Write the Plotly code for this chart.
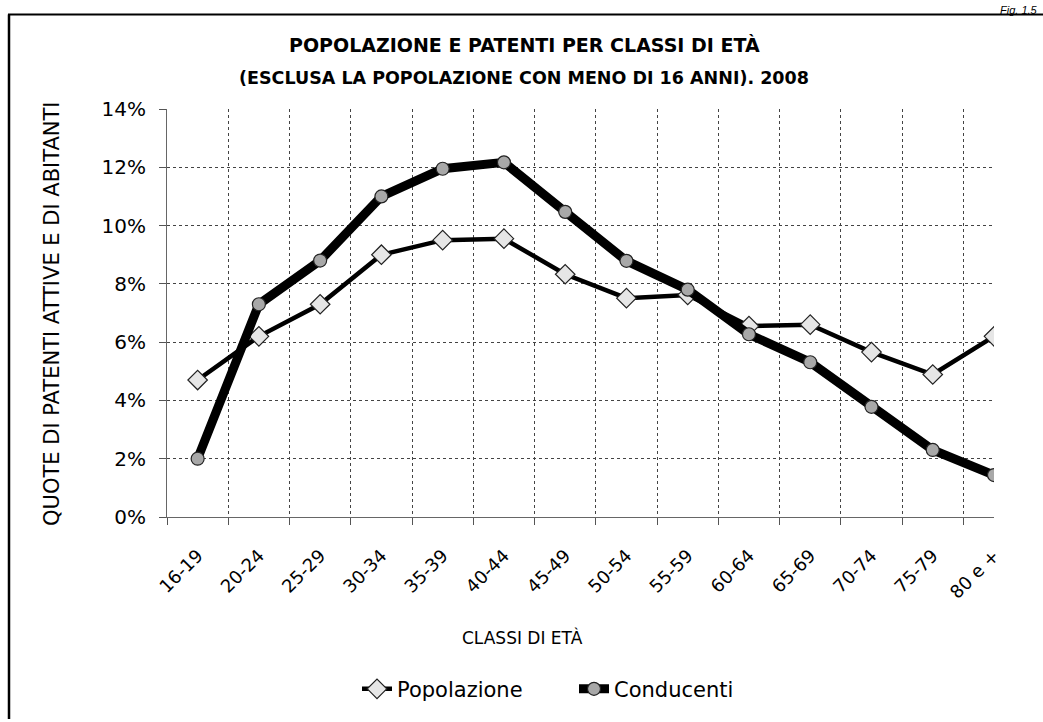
import plotly.graph_objects as go

categories = ["16-19", "20-24", "25-29", "30-34", "35-39", "40-44", "45-49",
              "50-54", "55-59", "60-64", "65-69", "70-74", "75-79", "80 e +"]
popolazione = [4.7, 6.2, 7.3, 9.0, 9.5, 9.55, 8.33, 7.51, 7.62, 6.55, 6.6, 5.66, 4.89, 6.2]
conducenti = [2.0, 7.3, 8.8, 11.0, 11.95, 12.17, 10.47, 8.79, 7.8, 6.27, 5.31, 3.78, 2.3, 1.44]
y_ticks = [0, 2, 4, 6, 8, 10, 12, 14]
y_ticklabels = ["0%", "2%", "4%", "6%", "8%", "10%", "12%", "14%"]

W, H = 1043, 722
L, R, T, B = 167, 994, 109, 519  # plot area in pixels


def px(x):
    return (x - L) / (R - L)


def py(y):
    return (B - y) / (B - T)


FONT = "DejaVu Sans"

fig = go.Figure()
fig.add_trace(go.Scatter(
    x=categories, y=popolazione, name="Popolazione", mode="lines+markers",
    line=dict(color="black", width=4.5),
    marker=dict(symbol="diamond", size=15, color="#e6e6e6",
                line=dict(color="#222", width=1.2)),
))
fig.add_trace(go.Scatter(
    x=categories, y=conducenti, name="Conducenti", mode="lines+markers",
    line=dict(color="black", width=9),
    marker=dict(symbol="circle", size=13, color="#a8a8a8",
                line=dict(color="#222", width=1.2)),
))

grid = dict(showgrid=True, gridcolor="#444", gridwidth=1, griddash="dot")

fig.update_layout(
    width=W, height=H,
    margin=dict(l=L, r=W - R, t=T, b=H - B),
    paper_bgcolor="white", plot_bgcolor="white",
    font=dict(family=FONT, color="black"),
    showlegend=True,
    legend=dict(orientation="h", x=px(357), xanchor="left", y=py(692), yanchor="middle",
                font=dict(size=21, family=FONT, color="black"),
                entrywidth=172, entrywidthmode="pixels",
                itemwidth=30, tracegroupgap=0, bgcolor="rgba(0,0,0,0)"),
    xaxis=dict(type="category", range=[-0.5, 13], tickson="boundaries",
               ticks="outside", ticklen=7, tickcolor="#555",
               tickangle=-45, tickfont=dict(size=18, family=FONT),
               ticklabelstandoff=20,
               zeroline=False, showline=True, linecolor="#666", linewidth=1,
               **grid),
    yaxis=dict(range=[0, 14], tickvals=y_ticks, ticktext=y_ticklabels,
               ticks="outside", ticklen=7, tickcolor="#555",
               tickfont=dict(size=20, family=FONT), ticklabelstandoff=9,
               zeroline=False, showline=True, linecolor="#666", linewidth=1,
               **grid),
)

annotations = [
    dict(text="<b>POPOLAZIONE E PATENTI PER CLASSI DI ETÀ</b>", x=px(524), y=py(45),
         font=dict(size=19, family=FONT)),
    dict(text="<b>(ESCLUSA LA POPOLAZIONE CON MENO DI 16 ANNI). 2008</b>", x=px(524), y=py(78),
         font=dict(size=17.5, family=FONT)),
    dict(text="CLASSI DI ETÀ", x=px(522), y=py(640), font=dict(size=17, family=FONT)),
    dict(text="QUOTE DI PATENTI ATTIVE E DI ABITANTI", x=px(52), y=py(315),
         textangle=-90, font=dict(size=21, family=FONT)),
    dict(text="<i>Fig. 1.5</i>", x=px(1040), y=py(1), xanchor="right", yanchor="top",
         font=dict(size=11, family="Liberation Sans")),
]
for a in annotations:
    a.setdefault("xanchor", "center")
    a.setdefault("yanchor", "middle")
    fig.add_annotation(xref="paper", yref="paper", showarrow=False, **a)

# page frame (scanned figure border)
fig.add_shape(type="line", xref="paper", yref="paper", x0=px(8), x1=px(1043), y0=py(14), y1=py(14),
              line=dict(color="black", width=2))
fig.add_shape(type="line", xref="paper", yref="paper", x0=px(9), x1=px(9), y0=py(14), y1=py(722),
              line=dict(color="black", width=2.5))

fig.write_html("out.html", config={"displayModeBar": False},
               post_script="document.body.style.margin='0';document.body.style.overflow='hidden';")
